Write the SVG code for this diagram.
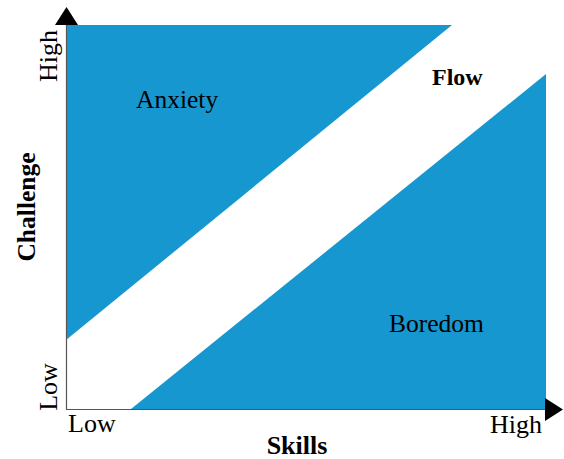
<svg xmlns="http://www.w3.org/2000/svg" width="564" height="459" viewBox="0 0 564 459">
<style>
.zone{fill:#1797cf;stroke:none}
.axis{stroke:#555;stroke-width:1.2;fill:none}
.head{fill:#000}
text{font-family:"Liberation Serif","Times New Roman",serif;fill:#000}
.lbl{font-size:25.5px}
.tick{font-size:26px}
.bold{font-weight:bold}
</style>
<rect width="564" height="459" fill="#fff"/>
<g id="anxiety">
<polygon class="zone" points="66,25 452,25 66,340"/>
<text class="lbl" x="136" y="108">Anxiety</text>
</g>
<g id="boredom">
<polygon class="zone" points="131,409 546,74 546,409"/>
<text class="lbl" x="389" y="332">Boredom</text>
</g>
<g id="flow">
<text class="bold" font-size="24" x="432" y="85">Flow</text>
</g>
<g id="connectors">
<line class="axis" x1="66.5" y1="24" x2="66.5" y2="409.5"/>
<line class="axis" x1="66" y1="409.5" x2="546" y2="409.5"/>
<polygon class="head" points="66.5,7 55,25 78,25"/>
<polygon class="head" points="563,409.5 545,398 545,421"/>
</g>
<g id="labels">
<text class="tick" text-anchor="middle" transform="translate(57,56) rotate(-90)">High</text>
<text class="tick" text-anchor="middle" transform="translate(57,387) rotate(-90)">Low</text>
<text class="tick" x="68" y="432">Low</text>
<text class="tick" x="490" y="433">High</text>
<text class="bold" font-size="25.5" text-anchor="middle" transform="translate(35,207) rotate(-90)">Challenge</text>
<text class="bold" font-size="26" text-anchor="middle" x="297" y="454">Skills</text>
</g>
</svg>
